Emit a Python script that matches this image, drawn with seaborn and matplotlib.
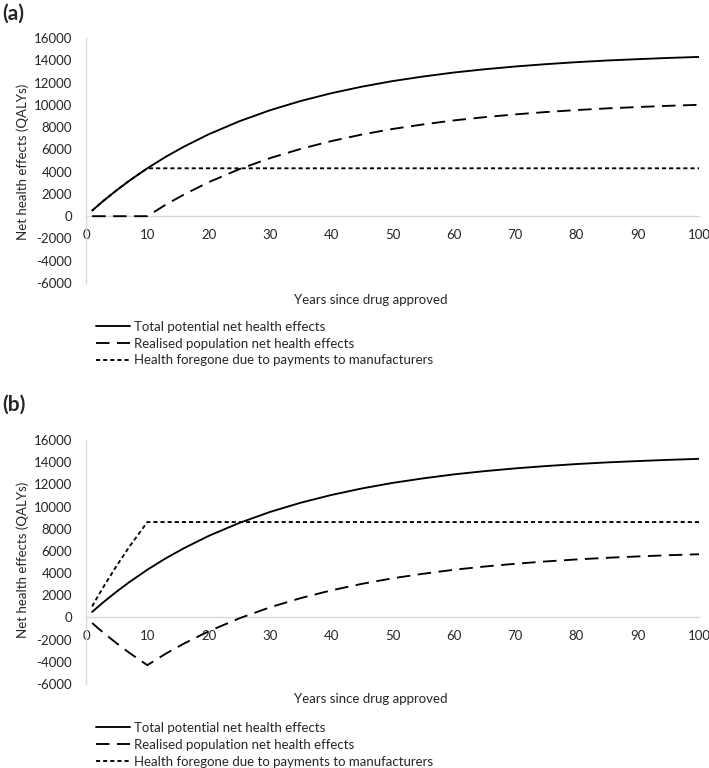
import matplotlib
matplotlib.use('Agg')
import matplotlib.pyplot as plt
import seaborn as sns

# years since approval (x values)
years = [1, 2, 3, 5, 7, 10, 13, 16, 20, 25, 30, 35, 40, 45, 50, 55, 60, 65, 70, 75, 80, 85, 90, 95, 100]

# panel (a)
total_a = [500, 980, 1450, 2330, 3160, 4300, 5330, 6250, 7350, 8520, 9510, 10340, 11040, 11630,
           12130, 12540, 12900, 13190, 13440, 13650, 13830, 13980, 14100, 14210, 14300]
realised_a = [0, 0, 0, 0, 0, 0, 1030, 1950, 3050, 4220, 5210, 6040, 6740, 7330,
              7830, 8240, 8600, 8890, 9140, 9350, 9530, 9680, 9800, 9910, 10000]
foregone_a = [500, 980, 1450, 2330, 3160, 4300, 4300, 4300, 4300, 4300, 4300, 4300, 4300, 4300,
              4300, 4300, 4300, 4300, 4300, 4300, 4300, 4300, 4300, 4300, 4300]

# panel (b)
total_b = total_a
realised_b = [-500, -980, -1450, -2330, -3160, -4300, -3270, -2350, -1250, -80, 910, 1740, 2440, 3030,
              3530, 3940, 4300, 4590, 4840, 5050, 5230, 5380, 5500, 5610, 5700]
foregone_b = [1000, 1960, 2900, 4660, 6320, 8600, 8600, 8600, 8600, 8600, 8600, 8600, 8600, 8600,
              8600, 8600, 8600, 8600, 8600, 8600, 8600, 8600, 8600, 8600, 8600]

labels = ["Total potential net health effects",
          "Realised population net health effects",
          "Health foregone due to payments to manufacturers"]
x_ticks = [0, 10, 20, 30, 40, 50, 60, 70, 80, 90, 100]
y_ticks = [-6000, -4000, -2000, 0, 2000, 4000, 6000, 8000, 10000, 12000, 14000, 16000]

sns.set_style("white")
plt.rcParams['font.family'] = ['Lato', 'DejaVu Sans']
plt.rcParams['axes.unicode_minus'] = False  # Excel-style hyphen minus
FS = 9.5
TXT = '#262626'
W, H = 709, 768
fig = plt.figure(figsize=(W / 100, H / 100), dpi=100)


def px_rect(left, top, right, bottom):
    return [left / W, 1 - bottom / H, (right - left) / W, (bottom - top) / H]


def draw_panel(rect, total, realised, foregone, tag, tag_y, xlab_y, ylab_y, leg_top):
    ax = fig.add_axes(rect)
    lw = 1.35
    sns.lineplot(x=years, y=foregone, ax=ax, color='black', lw=lw, zorder=2, label=labels[2])
    ax.lines[-1].set_dashes((2.2, 1.6))
    sns.lineplot(x=years, y=realised, ax=ax, color='black', lw=lw, zorder=3, label=labels[1])
    ax.lines[-1].set_dashes((7.2, 4.0))
    sns.lineplot(x=years, y=total, ax=ax, color='black', lw=lw, zorder=4, label=labels[0])

    ax.set_xlim(0, 100)
    ax.set_ylim(-6000, 16000)
    ax.set_xticks(x_ticks)
    ax.set_yticks(y_ticks)
    for s in ['top', 'right']:
        ax.spines[s].set_visible(False)
    for s in ['left', 'bottom']:
        ax.spines[s].set_color('#d9d9d9')
        ax.spines[s].set_linewidth(1.0)
    ax.spines['bottom'].set_position(('data', 0))
    ax.tick_params(axis='both', length=0, labelsize=FS, colors=TXT)
    ax.tick_params(axis='y', pad=10)
    ax.tick_params(axis='x', pad=9)
    ax.set_xlabel('')
    ax.set_ylabel('')

    # legend in the original order: total, realised, foregone
    handles, labs = ax.get_legend_handles_labels()
    order = [labels.index(l) for l in labs]
    hl = [h for _, h in sorted(zip(order, handles), key=lambda t: t[0])]
    ax.legend(hl, labels, loc='upper left', frameon=False, fontsize=FS, labelcolor=TXT,
              bbox_to_anchor=(96 / W, 1 - leg_top / H), bbox_transform=fig.transFigure,
              borderaxespad=0, borderpad=0, handlelength=2.6, handletextpad=0.25,
              labelspacing=0.36)

    fig.text(2 / W, 1 - tag_y / H, tag, fontsize=15, fontweight='bold', va='center', ha='left')
    fig.text(371 / W, 1 - xlab_y / H, 'Years since drug approved', fontsize=FS,
             ha='center', va='center', color=TXT)
    fig.text(23 / W, 1 - ylab_y / H, 'Net health effects (QALYs)', fontsize=FS,
             ha='center', va='center', rotation=90, color=TXT)
    return ax


draw_panel(px_rect(86, 38, 699, 283), total_a, realised_a, foregone_a,
           '(a)', 14, 300, 162, 321)
draw_panel(px_rect(86, 440, 699, 684), total_b, realised_b, foregone_b,
           '(b)', 405, 699, 560, 722)

fig.savefig('out.png', dpi=100)
